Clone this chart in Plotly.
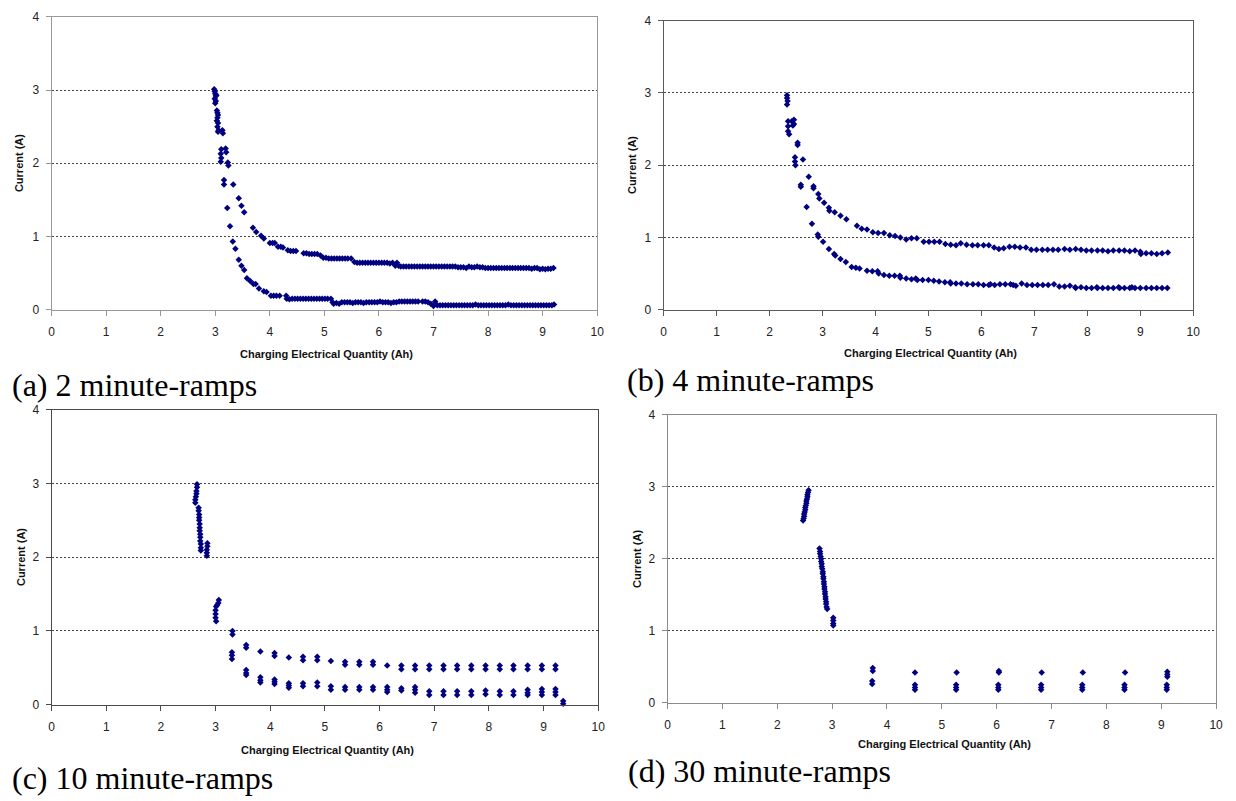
import plotly.graph_objects as go

# ---------------- data ----------------
# (a) 2 minute-ramps
a_ramp_x = [2.98, 2.99, 3.00, 3.01, 2.99, 3.01, 3.02, 3.00, 3.03, 3.04, 3.05, 3.04, 3.03, 3.05, 3.04, 3.06, 3.05,
            3.13, 3.14, 3.11, 3.10, 3.11, 3.10, 3.19, 3.20, 3.23, 3.24, 3.16, 3.16, 3.33, 3.22, 3.43, 3.48, 3.53,
            3.27, 3.32, 3.37, 3.43, 3.48, 3.53, 3.58, 3.64, 3.70, 3.74, 3.80, 3.89, 3.94]
a_ramp_y = [3.01, 2.98, 2.95, 2.92, 2.88, 2.85, 2.93, 2.82, 2.72, 2.69, 2.66, 2.62, 2.58, 2.55, 2.50, 2.45, 2.43,
            2.45, 2.41, 2.19, 2.13, 2.07, 2.02, 2.20, 2.15, 2.01, 1.97, 1.77, 1.71, 1.71, 1.39, 1.52, 1.42, 1.33,
            1.14, 0.93, 0.83, 0.68, 0.60, 0.54, 0.43, 0.39, 0.35, 0.35, 0.29, 0.25, 0.24]
a_upper_x = [3.69, 3.75, 3.84, 3.89, 4.00, 4.05, 4.09, 4.15, 4.20, 4.24, 4.33, 4.38, 4.43, 4.48, 4.62, 4.67, 4.72,
             4.77, 4.82, 4.87, 4.93, 4.98, 5.03, 5.08, 5.13, 5.18, 5.23, 5.28, 5.33, 5.38, 5.43, 5.49, 5.55, 5.60,
             5.65, 5.70, 5.75, 5.80, 5.85, 5.90, 5.95, 6.00, 6.05, 6.10, 6.15, 6.20, 6.25, 6.30, 6.33, 6.36, 6.40,
             6.45, 6.50, 6.55, 6.60, 6.65, 6.70, 6.75, 6.80, 6.85, 6.90, 6.95, 7.00, 7.05, 7.10, 7.15, 7.20, 7.25,
             7.30, 7.35, 7.40, 7.45, 7.50, 7.55, 7.60, 7.65, 7.70, 7.75, 7.80, 7.85, 7.90, 7.95, 8.00, 8.05, 8.10,
             8.15, 8.20, 8.25, 8.30, 8.35, 8.40, 8.45, 8.50, 8.55, 8.60, 8.65, 8.70, 8.75, 8.80, 8.85, 8.90, 8.95,
             9.00, 9.05, 9.10, 9.15, 9.20]
a_upper_y = [1.12, 1.06, 1.01, 0.97, 0.91, 0.91, 0.91, 0.86, 0.86, 0.85, 0.81, 0.80, 0.80, 0.80, 0.77, 0.77, 0.76,
             0.76, 0.76, 0.76, 0.74, 0.71, 0.71, 0.70, 0.70, 0.70, 0.70, 0.70, 0.70, 0.70, 0.70, 0.70, 0.65, 0.64,
             0.64, 0.64, 0.64, 0.64, 0.64, 0.64, 0.64, 0.64, 0.64, 0.64, 0.64, 0.63, 0.64, 0.60, 0.64, 0.60, 0.59,
             0.59, 0.59, 0.59, 0.59, 0.59, 0.59, 0.59, 0.59, 0.59, 0.59, 0.59, 0.59, 0.59, 0.59, 0.59, 0.59, 0.59,
             0.59, 0.59, 0.59, 0.58, 0.58, 0.58, 0.57, 0.59, 0.58, 0.58, 0.59, 0.58, 0.58, 0.57, 0.57, 0.57, 0.57,
             0.57, 0.57, 0.57, 0.57, 0.57, 0.57, 0.57, 0.57, 0.57, 0.57, 0.57, 0.57, 0.57, 0.56, 0.57, 0.57, 0.55,
             0.56, 0.55, 0.56, 0.56, 0.57]
a_lower_x = [4.02, 4.07, 4.12, 4.18, 4.30, 4.31, 4.36, 4.41, 4.46, 4.51, 4.56, 4.61, 4.66, 4.71, 4.76, 4.81, 4.86,
             4.91, 4.96, 5.01, 5.06, 5.12, 5.15, 5.17, 5.22, 5.27, 5.32, 5.37, 5.42, 5.47, 5.52, 5.57, 5.62, 5.67,
             5.72, 5.77, 5.82, 5.87, 5.92, 5.97, 6.02, 6.07, 6.12, 6.17, 6.22, 6.27, 6.32, 6.37, 6.42, 6.47, 6.52,
             6.57, 6.62, 6.67, 6.72, 6.80, 6.85, 6.90, 6.95, 7.00, 7.03, 7.07, 7.12, 7.17, 7.22, 7.27, 7.32, 7.37,
             7.42, 7.47, 7.52, 7.57, 7.62, 7.67, 7.72, 7.77, 7.82, 7.87, 7.92, 7.97, 8.02, 8.07, 8.12, 8.17, 8.22,
             8.27, 8.32, 8.37, 8.42, 8.47, 8.52, 8.57, 8.62, 8.67, 8.72, 8.77, 8.82, 8.87, 8.92, 8.97, 9.02, 9.07,
             9.12, 9.17, 9.21]
a_lower_y = [0.19, 0.19, 0.19, 0.19, 0.19, 0.15, 0.14, 0.15, 0.15, 0.15, 0.15, 0.15, 0.15, 0.15, 0.15, 0.15, 0.15,
             0.15, 0.15, 0.15, 0.15, 0.15, 0.10, 0.08, 0.09, 0.08, 0.10, 0.10, 0.10, 0.10, 0.09, 0.10, 0.10, 0.10,
             0.09, 0.10, 0.10, 0.10, 0.10, 0.10, 0.11, 0.10, 0.10, 0.10, 0.09, 0.10, 0.10, 0.11, 0.11, 0.11, 0.11,
             0.11, 0.11, 0.11, 0.11, 0.11, 0.11, 0.10, 0.08, 0.05, 0.11, 0.06, 0.06, 0.06, 0.06, 0.06, 0.06, 0.06,
             0.06, 0.06, 0.06, 0.06, 0.06, 0.06, 0.06, 0.07, 0.06, 0.06, 0.06, 0.06, 0.06, 0.06, 0.06, 0.06, 0.06,
             0.06, 0.06, 0.07, 0.06, 0.06, 0.06, 0.06, 0.06, 0.06, 0.06, 0.06, 0.06, 0.06, 0.06, 0.06, 0.06, 0.06,
             0.06, 0.06, 0.07]

# (b) 4 minute-ramps
b_ramp_x = [2.33, 2.33, 2.34, 2.33, 2.35, 2.35, 2.35, 2.37, 2.42, 2.44, 2.46, 2.46, 2.53, 2.53, 2.48, 2.48, 2.49,
            2.63, 2.59, 2.59, 2.74, 2.70, 2.83, 2.83, 2.80, 2.92, 2.94, 2.91, 2.92]
b_ramp_y = [2.97, 2.93, 2.89, 2.84, 2.61, 2.54, 2.47, 2.43, 2.61, 2.55, 2.63, 2.57, 2.31, 2.28, 2.11, 2.05, 2.00,
            2.08, 1.73, 1.70, 1.84, 1.42, 1.71, 1.68, 1.19, 1.60, 1.54, 1.04, 1.01]
b_upper_x = [3.03, 3.12, 3.13, 3.23, 3.34, 3.45, 3.65, 3.74, 3.84, 3.95, 4.05, 4.16, 4.27, 4.37, 4.47, 4.58, 4.68,
             4.78, 4.91, 5.01, 5.11, 5.21, 5.32, 5.42, 5.52, 5.61, 5.72, 5.83, 5.93, 6.04, 6.14, 6.24, 6.33, 6.42,
             6.53, 6.63, 6.73, 6.84, 6.94, 7.04, 7.15, 7.25, 7.35, 7.45, 7.57, 7.67, 7.78, 7.88, 7.98, 8.08, 8.19,
             8.29, 8.39, 8.49, 8.60, 8.70, 8.80, 8.90, 9.00, 9.01, 9.11, 9.21, 9.31, 9.41, 9.52]
b_upper_y = [1.48, 1.41, 1.37, 1.35, 1.30, 1.25, 1.16, 1.12, 1.11, 1.07, 1.06, 1.06, 1.03, 1.02, 1.00, 0.97, 0.99,
             0.99, 0.94, 0.94, 0.94, 0.94, 0.91, 0.90, 0.89, 0.92, 0.90, 0.89, 0.89, 0.89, 0.89, 0.86, 0.84, 0.85,
             0.87, 0.87, 0.86, 0.86, 0.83, 0.83, 0.83, 0.83, 0.83, 0.83, 0.84, 0.83, 0.84, 0.83, 0.82, 0.82, 0.82,
             0.82, 0.81, 0.82, 0.82, 0.82, 0.81, 0.82, 0.80, 0.77, 0.78, 0.78, 0.77, 0.78, 0.79]
b_lower_x = [3.01, 3.12, 3.22, 3.24, 3.34, 3.44, 3.55, 3.63, 3.70, 3.84, 3.94, 4.04, 4.06, 4.16, 4.26, 4.36, 4.46,
             4.47, 4.58, 4.68, 4.76, 4.79, 4.89, 5.00, 5.10, 5.20, 5.31, 5.41, 5.42, 5.52, 5.62, 5.73, 5.84, 5.94,
             6.04, 6.14, 6.17, 6.25, 6.35, 6.45, 6.55, 6.60, 6.65, 6.76, 6.86, 6.96, 7.06, 7.16, 7.26, 7.37, 7.47,
             7.57, 7.67, 7.77, 7.78, 7.88, 7.98, 8.08, 8.18, 8.19, 8.29, 8.39, 8.49, 8.59, 8.61, 8.70, 8.80, 8.84,
             8.90, 9.00, 9.11, 9.21, 9.31, 9.41, 9.51]
b_lower_y = [0.94, 0.84, 0.77, 0.75, 0.70, 0.66, 0.59, 0.58, 0.57, 0.54, 0.53, 0.53, 0.50, 0.48, 0.47, 0.47, 0.47,
             0.44, 0.43, 0.42, 0.43, 0.41, 0.41, 0.41, 0.40, 0.39, 0.38, 0.38, 0.36, 0.36, 0.36, 0.35, 0.35, 0.35,
             0.34, 0.34, 0.35, 0.34, 0.35, 0.35, 0.35, 0.34, 0.33, 0.36, 0.34, 0.34, 0.34, 0.34, 0.34, 0.35, 0.32,
             0.32, 0.33, 0.31, 0.30, 0.31, 0.30, 0.30, 0.31, 0.30, 0.30, 0.30, 0.30, 0.31, 0.30, 0.30, 0.30, 0.31,
             0.30, 0.30, 0.30, 0.30, 0.30, 0.30, 0.30]

# (c) 10 minute-ramps
c_x = [2.66, 2.66, 2.65, 2.65, 2.64, 2.63, 2.63,
       2.69, 2.69, 2.70, 2.70, 2.70, 2.71, 2.71, 2.71, 2.72, 2.72, 2.72, 2.73, 2.73, 2.73,
       2.85, 2.85, 2.84, 2.84, 2.84,
       3.06, 3.05, 3.03, 3.01, 3.00, 3.00, 3.00, 3.01,
       3.31, 3.31, 3.30, 3.30, 3.30,
       3.56, 3.56, 3.56, 3.56, 3.56,
       3.82, 3.82, 3.82, 3.82,
       4.08, 4.08, 4.08, 4.08, 4.08,
       4.34, 4.34, 4.34, 4.34,
       4.60, 4.60, 4.60, 4.60,
       4.86, 4.86, 4.86, 4.86,
       5.11, 5.11, 5.11,
       5.37, 5.37, 5.37, 5.37,
       5.63, 5.63, 5.63, 5.63,
       5.88, 5.88, 5.88, 5.88,
       6.14, 6.14, 6.14, 6.14,
       6.40, 6.40, 6.40, 6.40,
       6.65, 6.65, 6.65, 6.65, 6.65,
       6.91, 6.91, 6.91, 6.91,
       7.17, 7.17, 7.17, 7.17,
       7.42, 7.42, 7.42, 7.42,
       7.68, 7.68, 7.68, 7.68,
       7.94, 7.94, 7.94, 7.94,
       8.20, 8.20, 8.20, 8.20,
       8.45, 8.45, 8.45, 8.45,
       8.71, 8.71, 8.71, 8.71, 8.71,
       8.97, 8.97, 8.97, 8.97, 8.97,
       9.22, 9.22, 9.22, 9.22, 9.22,
       9.36, 9.36]
c_y = [2.99, 2.95, 2.90, 2.86, 2.82, 2.78, 2.74,
       2.67, 2.63, 2.58, 2.54, 2.50, 2.45, 2.40, 2.36, 2.31, 2.27, 2.22, 2.18, 2.13, 2.09,
       2.19, 2.15, 2.10, 2.06, 2.02,
       1.42, 1.38, 1.35, 1.33, 1.28, 1.23, 1.18, 1.13,
       1.00, 0.95, 0.71, 0.67, 0.62,
       0.81, 0.77, 0.47, 0.43, 0.40,
       0.72, 0.37, 0.33, 0.30,
       0.70, 0.66, 0.34, 0.31, 0.28,
       0.64, 0.29, 0.26, 0.23,
       0.65, 0.60, 0.29, 0.25,
       0.65, 0.60, 0.30, 0.25,
       0.59, 0.25, 0.20,
       0.58, 0.54, 0.24, 0.20,
       0.58, 0.54, 0.24, 0.20,
       0.58, 0.54, 0.24, 0.20,
       0.53, 0.24, 0.20, 0.17,
       0.53, 0.48, 0.22, 0.19,
       0.53, 0.48, 0.24, 0.20, 0.16,
       0.53, 0.48, 0.18, 0.13,
       0.53, 0.48, 0.18, 0.13,
       0.53, 0.48, 0.18, 0.13,
       0.53, 0.48, 0.18, 0.13,
       0.53, 0.48, 0.19, 0.14,
       0.53, 0.48, 0.18, 0.13,
       0.53, 0.48, 0.18, 0.13,
       0.53, 0.48, 0.20, 0.16, 0.13,
       0.53, 0.48, 0.21, 0.17, 0.13,
       0.53, 0.48, 0.21, 0.17, 0.13,
       0.05, 0.01]

# (d) 30 minute-ramps
d_x = [2.47, 2.48, 2.49, 2.49, 2.50, 2.51, 2.51, 2.52, 2.53, 2.53, 2.54, 2.55, 2.55, 2.56, 2.57,
       2.77, 2.78, 2.78, 2.79, 2.80, 2.80, 2.81, 2.81, 2.82, 2.83, 2.83, 2.84, 2.84, 2.85, 2.85, 2.86,
       2.86, 2.87, 2.87, 2.88, 2.88, 2.89, 2.89, 2.90, 2.91,
       3.02, 3.02, 3.02, 3.02,
       3.74, 3.74, 3.73, 3.73,
       4.51, 4.51, 4.51, 4.51,
       5.27, 5.26, 5.26, 5.26,
       6.04, 6.04, 6.03, 6.03, 6.03,
       6.82, 6.81, 6.81, 6.81,
       7.57, 7.56, 7.56, 7.56,
       8.34, 8.33, 8.33, 8.33,
       9.11, 9.11, 9.11, 9.10, 9.10, 9.10]
d_y = [2.53, 2.56, 2.59, 2.62, 2.65, 2.68, 2.71, 2.74, 2.77, 2.80, 2.83, 2.86, 2.89, 2.92, 2.95,
       2.14, 2.10, 2.07, 2.03, 2.00, 1.96, 1.93, 1.89, 1.86, 1.82, 1.79, 1.75, 1.72, 1.68, 1.65, 1.61,
       1.58, 1.54, 1.51, 1.47, 1.44, 1.40, 1.37, 1.33, 1.30,
       1.18, 1.14, 1.10, 1.07,
       0.48, 0.44, 0.30, 0.26,
       0.42, 0.25, 0.21, 0.18,
       0.42, 0.25, 0.21, 0.18,
       0.44, 0.42, 0.25, 0.21, 0.18,
       0.42, 0.25, 0.21, 0.18,
       0.42, 0.25, 0.21, 0.18,
       0.42, 0.25, 0.21, 0.18,
       0.43, 0.39, 0.36, 0.25, 0.21, 0.18]

x_ticks = [0, 1, 2, 3, 4, 5, 6, 7, 8, 9, 10]
y_ticks = [0, 1, 2, 3, 4]
x_title = "Charging Electrical Quantity (Ah)"
y_title = "Current (A)"
captions = ["(a) 2 minute-ramps", "(b) 4 minute-ramps", "(c) 10 minute-ramps", "(d) 30 minute-ramps"]

# ---------------- figure ----------------
W, H = 1236, 801
MARK = dict(symbol="diamond", size=5, color="#000080")

panels = [
    (a_ramp_x + a_upper_x + a_lower_x, a_ramp_y + a_upper_y + a_lower_y),
    (b_ramp_x + b_upper_x + b_lower_x, b_ramp_y + b_upper_y + b_lower_y),
    (c_x, c_y),
    (d_x, d_y),
]
# pixel boxes: left, right, top, bottom
boxes = [(49, 599, 10, 308), (666, 1200, 14, 308), (49, 600, 410, 710), (670, 1223, 415, 708)]
line_colors = ["#999999", "#5a5a5a", "#4a4a4a", "#8a8a8a"]

fig = go.Figure()
layout = dict(width=W, height=H, margin=dict(l=0, r=0, t=0, b=0),
              paper_bgcolor="white", plot_bgcolor="white", showlegend=False)
annotations = []
tickfont = dict(family="Liberation Sans, Arial", size=12, color="#222222")
titlefont = dict(family="Liberation Sans, Arial", size=11, color="#111111")

for i, ((xs, ys), (l, r, t, b), lc) in enumerate(zip(panels, boxes, line_colors)):
    n = "" if i == 0 else str(i + 1)
    fig.add_trace(go.Scatter(x=xs, y=ys, mode="markers", marker=MARK,
                             xaxis="x" + n, yaxis="y" + n, cliponaxis=False, hoverinfo="skip"))
    layout["xaxis" + n] = dict(domain=[l / W, r / W], anchor="y" + n, range=[0, 10],
                               tickvals=x_ticks, ticks="outside", ticklen=5, tickcolor=lc,
                               ticklabelstandoff=6,
                               showline=True, linecolor=lc, mirror=True, showgrid=False,
                               zeroline=False, tickfont=tickfont, fixedrange=True)
    layout["yaxis" + n] = dict(domain=[1 - b / H, 1 - t / H], anchor="x" + n, range=[0, 4],
                               tickvals=y_ticks, ticks="outside", ticklen=5, tickcolor=lc,
                               ticklabelstandoff=4,
                               showline=True, linecolor=lc, mirror=True, showgrid=True,
                               gridcolor="#444444", griddash="2px,2px", gridwidth=1,
                               zeroline=False, tickfont=tickfont, fixedrange=True)

# axis titles and captions (pixel positions)
ytitle_pos = [(16, 159), (634, 161), (18, 560), (639, 562)]
xtitle_pos = [(326, 353), (935, 352), (327, 756), (949, 750)]
cap_pos = [(7, 385), (627, 380), (7, 785), (628, 778)]
for i in range(4):
    xp, yp = ytitle_pos[i]
    annotations.append(dict(text="<b>" + y_title + "</b>", x=xp / W, y=1 - yp / H, xref="paper", yref="paper",
                            textangle=-90, showarrow=False, font=titlefont, xanchor="center", yanchor="middle"))
    xp, yp = xtitle_pos[i]
    annotations.append(dict(text="<b>" + x_title + "</b>", x=xp / W, y=1 - yp / H, xref="paper", yref="paper",
                            showarrow=False, font=titlefont, xanchor="center", yanchor="middle"))
    xp, yp = cap_pos[i]
    annotations.append(dict(text=captions[i], x=xp / W, y=1 - yp / H, xref="paper", yref="paper",
                            showarrow=False, xanchor="left", yanchor="middle",
                            font=dict(family="Liberation Serif, Times New Roman", size=32, color="#000000")))

layout["annotations"] = annotations
fig.update_layout(**layout)
fig.write_html("out.html", config={"displayModeBar": False},
               post_script="document.body.style.margin='0px';document.body.style.overflow='hidden';")
